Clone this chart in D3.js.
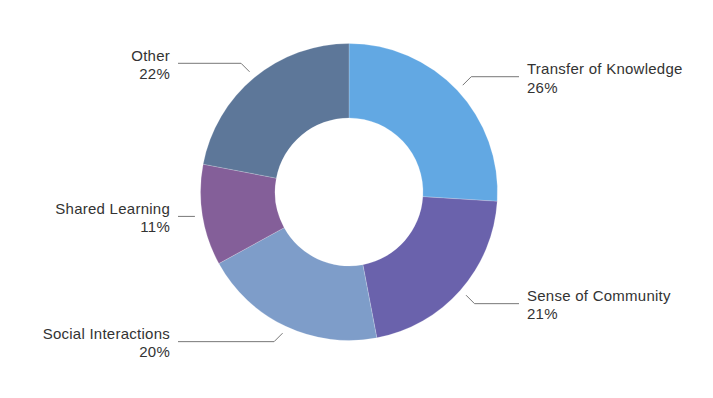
<!DOCTYPE html>
<html>
<head>
<meta charset="utf-8">
<script src="https://cdn.jsdelivr.net/npm/d3@7"></script>
<style>
  body { margin: 0; background: white; }
</style>
</head>
<body>
<script>
let w = 713;
let h = 398;

// data
const categories = ['Transfer of Knowledge', 'Sense of Community', 'Social Interactions', 'Shared Learning', 'Other'];
const values = [26, 21, 20, 11, 22];
const colorsArr = ['#62a8e3', '#6a62ac', '#7e9dc9', '#845f99', '#5d7799'];

const cx = 349, cy = 192;
const outerR = 148.5, innerR = 74;

const svg = d3.select('body')
  .append('svg')
  .attr('width', w)
  .attr('height', h)
  .style('background-color', 'white');

const color = d3.scaleOrdinal()
  .domain(categories)
  .range(colorsArr);

const pie = d3.pie().sort(null).value(d => d.value);
const arcs = pie(categories.map((c, i) => ({ name: c, value: values[i] })));

const arc = d3.arc().innerRadius(innerR).outerRadius(outerR);

const g = svg.append('g').attr('transform', `translate(${cx}, ${cy})`);

g.selectAll('path')
  .data(arcs)
  .enter()
  .append('path')
  .attr('d', arc)
  .attr('fill', d => color(d.data.name))
  .attr('stroke', 'white')
  .attr('stroke-width', 0.2);

// leader lines + labels
const startR = 156;
const rightX = 519, leftX = 178; // where horizontal part ends (relative to page)

arcs.forEach(function (d) {
  const a = (d.startAngle + d.endAngle) / 2;
  const sx = Math.sin(a) * startR;
  const sy = -Math.cos(a) * startR;
  const right = sx > 0;
  // diagonal goes out ~45deg, fades to flat near horizontal
  const k = Math.min(1, Math.max(0, (Math.abs(Math.cos(a)) - 0.2) / 0.3));
  const dy = 8.5 * k * (sy > 0 ? 1 : -1);
  const dx = 8.5 * k * (right ? 1 : -1);
  const ex = sx + dx, ey = sy + dy;
  const endX = (right ? rightX : leftX) - cx;

  g.append('polyline')
    .attr('points', [[sx, sy], [ex, ey], [endX, ey]].map(p => p.join(',')).join(' '))
    .attr('fill', 'none')
    .attr('stroke', '#777')
    .attr('stroke-width', 1);

  const t = g.append('text')
    .attr('text-anchor', right ? 'start' : 'end')
    .style('font-family', 'Liberation Sans, Arial, sans-serif')
    .style('font-size', '15px')
    .style('letter-spacing', '0.25px')
    .style('fill', '#333');
  const tx = right ? endX + 8 : endX - 8;
  t.append('tspan').attr('x', tx).attr('y', ey - 2.4).text(d.data.name);
  t.append('tspan').attr('x', tx).attr('y', ey + 15.8).text(d.data.value + '%');
});
</script>
</body>
</html>
